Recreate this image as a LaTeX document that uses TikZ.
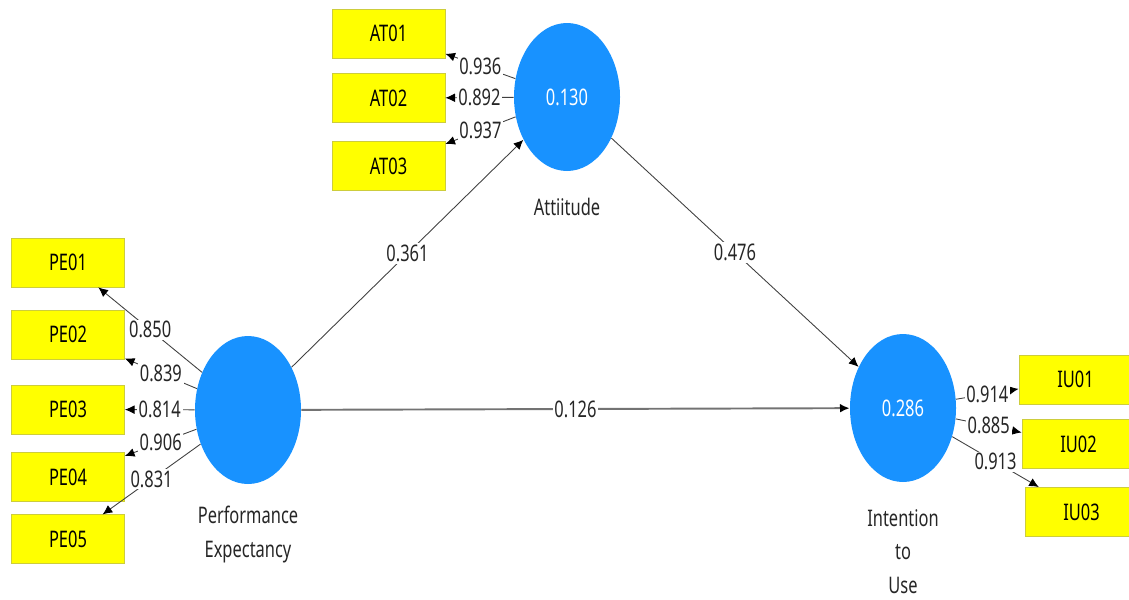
\documentclass[tikz,border=0pt]{standalone}
\usepackage{fontspec}
\setmainfont{Noto Sans}[FakeStretch=0.72]
\usetikzlibrary{arrows.meta,shapes.geometric}
\definecolor{lvblue}{RGB}{24,146,255}
\definecolor{mvyellow}{RGB}{255,255,0}
\definecolor{mvedge}{RGB}{205,205,60}
\tikzstyle{latent}=[ellipse, fill=lvblue, text=white, minimum width=2.12cm,
  minimum height=2.96cm, inner sep=0pt]
\tikzstyle{indicator}=[draw=mvedge, fill=mvyellow, minimum width=2.26cm,
  minimum height=0.98cm, inner sep=0pt]
\tikzstyle{caption}=[align=center, text=black!85]
\tikzstyle{coef}=[fill=white, text=black!85, inner sep=1pt]
\tikzstyle{struct}=[draw, line width=0.5pt, color=black!75,
  -{Latex[length=5.5pt, width=5pt, black]}]
\tikzstyle{direct}=[draw, line width=1.1pt, color=black!55,
  -{Latex[length=5.5pt, width=5pt, black]}]
\tikzstyle{loading}=[draw, line width=0.5pt, color=black!75,
  -{Latex[length=5.5pt, width=5pt, black]}]

\begin{document}
\begin{tikzpicture}[font=\fontsize{13}{19}\selectfont]
  \useasboundingbox (0,0) rectangle (22.58,-11.98);

  \path (11.34,-1.94) node (att) [latent] {0.130};
  \path (4.96,-8.20) node (pe) [latent] {};
  \path (18.06,-8.16) node (iu) [latent] {0.286};

  \path (att.south)+(0,-0.72) node (attcap) [caption] {Attiitude};
  \path (pe.south)+(0,-1.00) node (pecap) [caption] {Performance\\Expectancy};
  \path (iu.south)+(0,-1.38) node (iucap) [caption] {Intention\\to\\Use};

  \path (7.77,-0.67) node (at01) [indicator] {AT01};
  \path (at01.south)+(0,-0.30) node (at02) [indicator, anchor=north] {AT02};
  \path (at02.south)+(0,-0.36) node (at03) [indicator, anchor=north] {AT03};

  \path (1.36,-5.25) node (pe01) [indicator] {PE01};
  \path (pe01.south)+(0,-0.45) node (pe02) [indicator, anchor=north] {PE02};
  \path (pe02.south)+(0,-0.50) node (pe03) [indicator, anchor=north] {PE03};
  \path (pe03.south)+(0,-0.36) node (pe04) [indicator, anchor=north] {PE04};
  \path (pe04.south)+(0,-0.25) node (pe05) [indicator, anchor=north] {PE05};

  \path (21.51,-7.59) node (iu01) [indicator] {IU01};
  \path (iu01.south)+(0.06,-0.30) node (iu02) [indicator, anchor=north] {IU02};
  \path (iu02.south)+(0.06,-0.36) node (iu03) [indicator, anchor=north] {IU03};

  \path [struct] (pe) -- node [coef] {0.361} (att);
  \path [struct] (att) -- node [coef] {0.476} (iu);
  \path [direct] (pe) -- node [coef] {0.126} (iu);

  \path [loading] (att) -- node [coef] {0.936} (at01);
  \path [loading] (att) -- node [coef] {0.892} (at02);
  \path [loading] (att) -- node [coef] {0.937} (at03);

  \path [loading] (pe) -- node [coef] {0.850} (pe01);
  \path [loading] (pe) -- node [coef] {0.839} (pe02);
  \path [loading] (pe) -- node [coef] {0.814} (pe03);
  \path [loading] (pe) -- node [coef] {0.906} (pe04);
  \path [loading] (pe) -- node [coef] {0.831} (pe05);

  \path [loading] (iu) -- node [coef] {0.914} (iu01);
  \path [loading] (iu) -- node [coef] {0.885} (iu02);
  \path [loading] (iu) -- node [coef] {0.913} (iu03);
\end{tikzpicture}
\end{document}
